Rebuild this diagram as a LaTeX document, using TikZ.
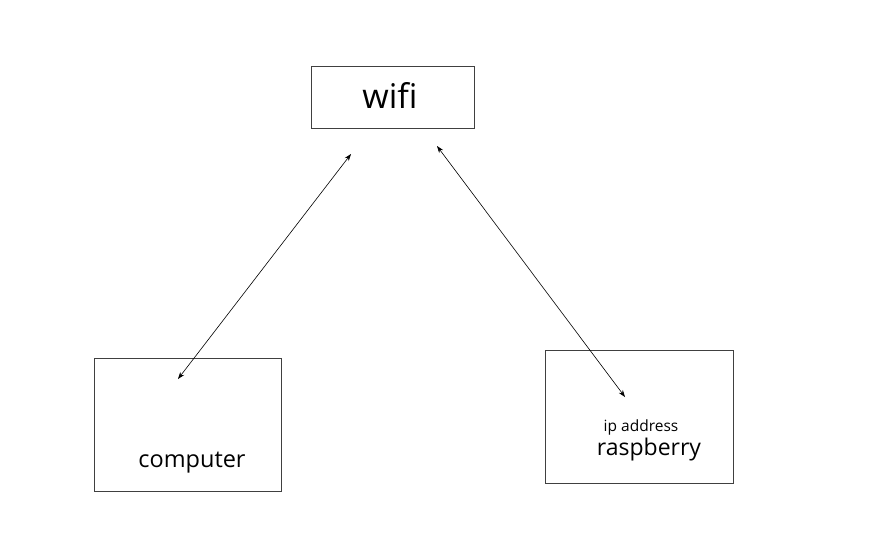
\documentclass[tikz,border=0pt]{standalone}
\usepackage{fontspec}
\setmainfont{Open Sans}
\usetikzlibrary{arrows.meta}
\tikzset{
  box/.style={draw=black!75,line width=0.9pt,minimum width=163pt,minimum height=62pt,inner sep=0pt},
  link/.style={{Stealth[length=7pt,width=5pt]}-{Stealth[length=7pt,width=5pt]},line width=0.6pt}
}
\begin{document}
\begin{tikzpicture}[x=1pt,y=-1pt]
  \useasboundingbox (0,0) rectangle (876,544);
  % boxes
  \node[box] (wifi) at (392.5,97) {};
  \node[box,minimum width=187pt,minimum height=133pt] (computer) at (187.5,424.5) {};
  \node[box,minimum width=188pt,minimum height=133pt] (raspberry) at (639,416.5) {};
  % texts
  \node (wifitext) at (390,95) {\fontsize{34}{40}\selectfont wifi};
  \node (comptext) at (192,463) {\fontsize{23.5}{28}\selectfont computer};
  \node (iptext) at (641,427) {\fontsize{15.5}{19}\selectfont ip address};
  \node (rasptext) at (649,450) {\fontsize{23}{28}\selectfont raspberry};
  % arrow ends
  \coordinate (w1) at (351,154);
  \coordinate (w2) at (437,146);
  \coordinate (c1) at (178,379);
  \coordinate (r1) at (625,397);
  \draw[link] (c1) -- (w1);
  \draw[link] (w2) -- (r1);
\end{tikzpicture}
\end{document}
